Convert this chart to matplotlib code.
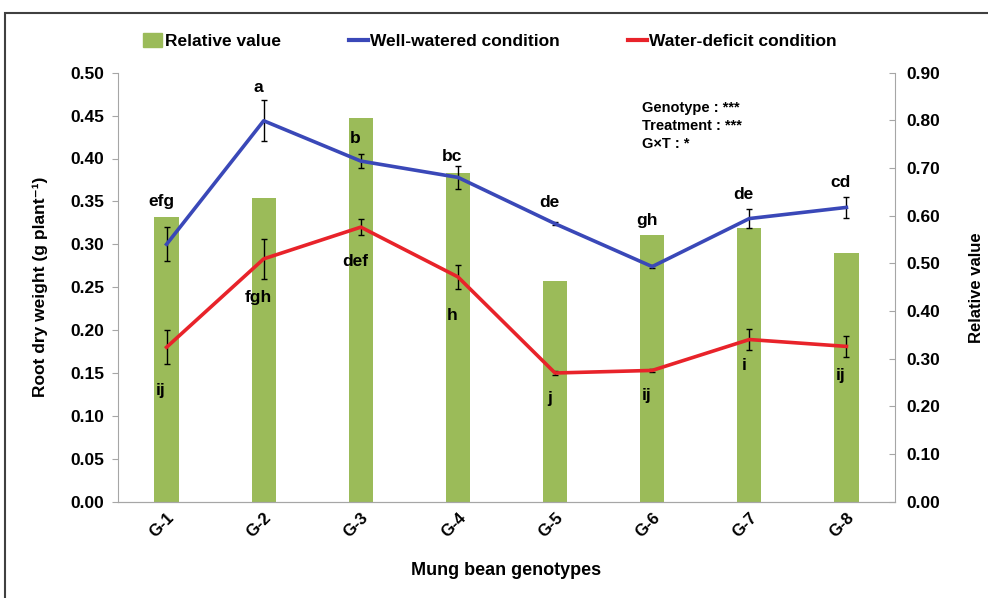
import matplotlib.pyplot as plt
import numpy as np
from matplotlib.lines import Line2D
from matplotlib.patches import Patch, Rectangle

# data
genotypes = ["G-1", "G-2", "G-3", "G-4", "G-5", "G-6", "G-7", "G-8"]
well_watered = [0.300, 0.444, 0.397, 0.378, 0.324, 0.274, 0.330, 0.343]
ww_err = [0.020, 0.024, 0.008, 0.013, 0.002, 0.002, 0.011, 0.012]
water_deficit = [0.180, 0.283, 0.320, 0.262, 0.150, 0.153, 0.189, 0.181]
wd_err = [0.020, 0.023, 0.009, 0.014, 0.002, 0.002, 0.012, 0.012]
relative = [0.598, 0.638, 0.806, 0.689, 0.462, 0.560, 0.575, 0.522]
ww_letters = ["efg", "a", "b", "bc", "de", "gh", "de", "cd"]
wd_letters = ["ij", "fgh", "def", "h", "j", "ij", "i", "ij"]

# label offsets (points) above / below each line point
ww_off = [31, 24, 16, 15, 15, 33, 17, 18]
wd_off = [-31, -28, -25, -28, -18, -18, -19, -21]

plt.rcParams["font.family"] = ["Liberation Sans", "DejaVu Sans"]
plt.rcParams["font.weight"] = "bold"

green = "#9BBB59"
blue = "#3A48B8"
red = "#E8232A"
grey = "#A6A6A6"

fig = plt.figure(figsize=(9.88, 5.98), dpi=100)
ax = fig.add_axes([118 / 988, 1 - 501.7 / 598, (895 - 118) / 988, (501.7 - 72.7) / 598])
ax2 = ax.twinx()

x = np.arange(len(genotypes))

# bars on the secondary axis
ax2.bar(x, relative, width=0.25, color=green, zorder=1)
ax2.set_ylim(0, 0.9)
ax2.set_yticks(np.arange(0, 0.91, 0.1))
ax2.set_yticklabels(["%.2f" % v for v in np.arange(0, 0.91, 0.1)], fontsize=12.5, fontweight="bold")
ax2.tick_params(axis="y", direction="in", length=4, color=grey, pad=8)
ax2.set_ylabel("Relative value", fontsize=12, fontweight="bold", labelpad=21)

# lines on the primary axis, drawn over the bars
ax.set_zorder(ax2.get_zorder() + 1)
ax.patch.set_visible(False)
ax.errorbar(x, well_watered, yerr=ww_err, color=blue, lw=2.6, ecolor="black",
            elinewidth=1, capsize=2.5, capthick=1)
ax.errorbar(x, water_deficit, yerr=wd_err, color=red, lw=2.6, ecolor="black",
            elinewidth=1, capsize=2.5, capthick=1)

for i in range(len(genotypes)):
    ax.annotate(ww_letters[i], (x[i], well_watered[i]), xytext=(-4, ww_off[i]),
                textcoords="offset points", ha="center", va="center",
                fontsize=12.5, fontweight="bold")
    ax.annotate(wd_letters[i], (x[i], water_deficit[i]), xytext=(-4, wd_off[i]),
                textcoords="offset points", ha="center", va="center",
                fontsize=12.5, fontweight="bold")

ax.set_xlim(-0.5, len(genotypes) - 0.5)
ax.set_ylim(0, 0.5)
ax.set_yticks(np.arange(0, 0.51, 0.05))
ax.set_yticklabels(["%.2f" % v for v in np.arange(0, 0.51, 0.05)], fontsize=12.5, fontweight="bold")
ax.tick_params(axis="y", direction="out", length=4, color=grey, pad=6)
ax.set_xticks(x)
ax.set_xticklabels(genotypes, rotation=45, ha="right", rotation_mode="anchor",
                   fontsize=12, fontweight="bold")
ax.tick_params(axis="x", length=0, pad=6)
ax.set_ylabel("Root dry weight (g plant\u207b\u00b9)", fontsize=12.5, fontweight="bold", labelpad=16)
ax.set_xlabel("Mung bean genotypes", fontsize=13, fontweight="bold", labelpad=16)

for a in (ax, ax2):
    a.spines["top"].set_visible(False)
    for s in ("left", "right", "bottom"):
        a.spines[s].set_color(grey)
ax.spines["right"].set_visible(False)
ax2.spines["left"].set_visible(False)

ax.text(0.675, 0.935, "Genotype : ***\nTreatment : ***\nG\u00d7T : *", transform=ax.transAxes,
        fontsize=10.5, fontweight="bold", va="top", ha="left", linespacing=1.4)

handles = [Patch(color=green), Line2D([], [], color=blue, lw=3), Line2D([], [], color=red, lw=3)]
labels = ["Relative value", "Well-watered condition", "Water-deficit condition"]
fig.legend(handles, labels, loc="center", bbox_to_anchor=(0.496, 0.931), ncol=3, frameon=False,
           prop={"size": 12.5, "weight": "bold"},
           handlelength=1.1, handleheight=0.8, handletextpad=0.15, columnspacing=3.9)

fig.patches.append(Rectangle((5 / 988, -0.05), 1.0, 1.05 - 13 / 598, transform=fig.transFigure,
                             fill=False, ec="#404040", lw=1.5))

fig.savefig("out.png", dpi=100)
